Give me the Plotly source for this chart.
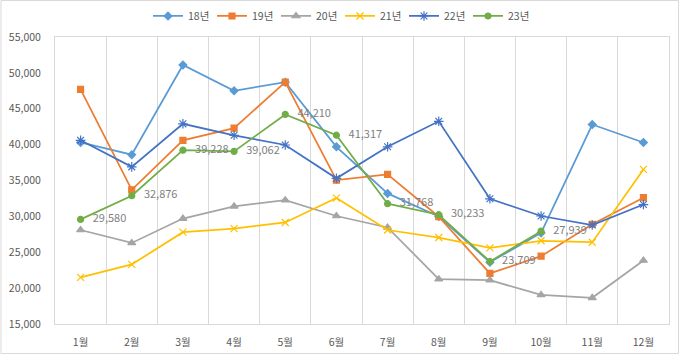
import plotly.graph_objects as go

months = ["1월", "2월", "3월", "4월", "5월", "6월", "7월", "8월", "9월", "10월", "11월", "12월"]
y18 = [40300, 38600, 51100, 47500, 48700, 39700, 33200, 30000, 23600, 27700, 42800, 40300]
y19 = [47700, 33700, 40600, 42300, 48700, 35050, 35850, 29950, 22050, 24450, 28900, 32600]
y20 = [28100, 26300, 29700, 31400, 32250, 30050, 28450, 21250, 21100, 19050, 18650, 23850]
y21 = [21500, 23300, 27800, 28300, 29150, 32550, 28100, 27050, 25600, 26600, 26400, 36550]
y22 = [40600, 36900, 42900, 41300, 39950, 35300, 39700, 43250, 32450, 30050, 28800, 31650]
y23 = [29580, 32876, 39228, 39062, 44210, 41317, 31768, 30233, 23709, 27939, None, None]

series = [
    ("18년", y18, "#5B9BD5", "diamond", 6),
    ("19년", y19, "#ED7D31", "square", 6),
    ("20년", y20, "#A5A5A5", "triangle-up", 7),
    ("21년", y21, "#FFC000", "x-thin-open", 7),
    ("22년", y22, "#4472C4", "asterisk-open", 8),
    ("23년", y23, "#70AD47", "circle", 6),
]

fig = go.Figure()
for name, vals, color, sym, size in series:
    is23 = name == "23년"
    fig.add_trace(go.Scatter(
        x=months, y=vals, name=name,
        mode="lines+markers+text" if is23 else "lines+markers",
        line=dict(color=color, width=1.75),
        marker=dict(symbol=sym, size=size, color=color,
                    line=dict(color=color, width=1.2)),
        text=["   " + f"{v:,}" if v is not None else "" for v in vals] if is23 else None,
        textposition="middle right",
        textfont=dict(color="#7F7F7F", size=11, family="Noto Sans CJK KR"),
        cliponaxis=False,
    ))

fig.update_layout(
    width=680, height=355,
    margin=dict(l=55, r=11, t=37, b=31, autoexpand=False),
    paper_bgcolor="white", plot_bgcolor="white",
    font=dict(family="Noto Sans CJK KR", color="#595959", size=11),
    legend=dict(orientation="h", x=0.5, xanchor="center", xref="container",
                y=0.955, yanchor="middle", yref="container",
                font=dict(size=10.5, color="#595959"), itemwidth=30,
                entrywidth=19, entrywidthmode="pixels",
                bgcolor="rgba(0,0,0,0)"),
    showlegend=True,
    shapes=[dict(type="rect", xref="paper", yref="paper",
                 x0=-0.0880, y0=-0.1030, x1=1.0155, y1=1.127,
                 line=dict(color="#D9D9D9", width=1), fillcolor="rgba(0,0,0,0)", layer="below")],
)
fig.update_xaxes(type="category", range=[-0.5, len(months) - 0.5], tickson="boundaries",
                 showgrid=True, gridcolor="#D9D9D9",
                 gridwidth=1, showline=True, linecolor="#D9D9D9", mirror=True,
                 ticks="", ticklabelstandoff=8,
                 tickfont=dict(size=10.5, color="#595959"), zeroline=False)
fig.update_yaxes(range=[15000, 55000], dtick=5000, tickformat=",", showgrid=False,
                 showline=True, linecolor="#D9D9D9", mirror=True, ticks="",
                 ticklabelstandoff=11,
                 tickfont=dict(size=10.5, color="#595959"), zeroline=False)

fig.write_html("out.html", config={"displayModeBar": False},
               post_script="document.documentElement.style.margin='0';document.body.style.margin='0';document.body.style.overflow='hidden';")
